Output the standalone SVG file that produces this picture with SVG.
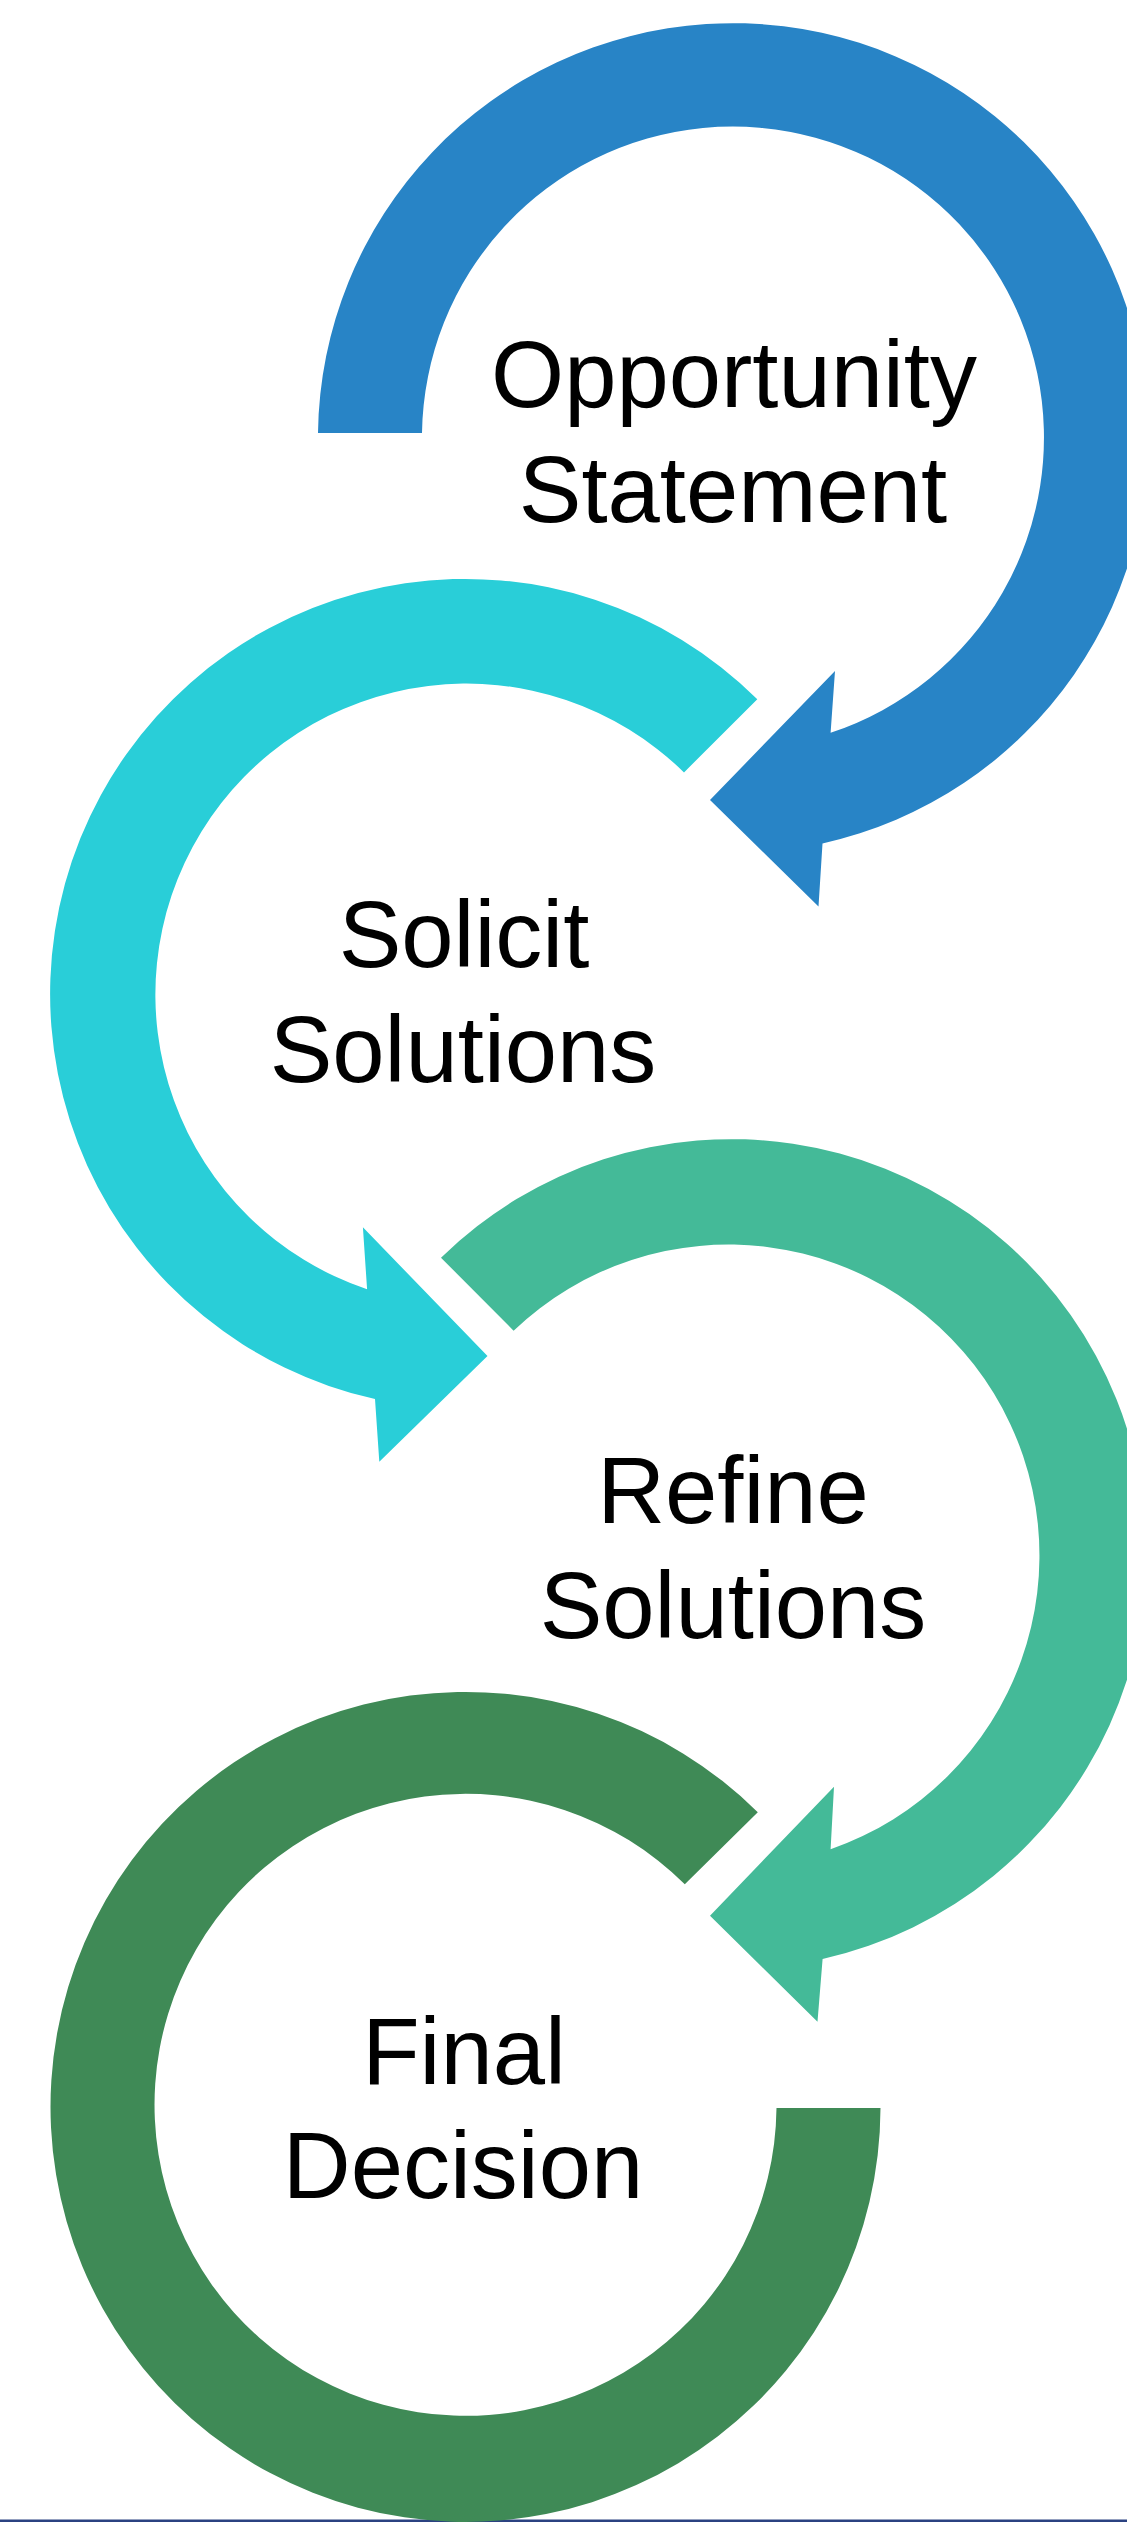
<svg xmlns="http://www.w3.org/2000/svg" width="1127" height="2522" viewBox="0 0 1127 2522">
  <style>
    .lbl { font-family: "Liberation Sans", Arial, sans-serif; font-size: 94px; fill: #000000; text-anchor: middle; }
  </style>
  <rect x="0" y="0" width="1127" height="2522" fill="#ffffff"/>
  <rect id="baseline" x="0" y="2519.5" width="1127" height="2.5" fill="#2B4281"/>
  <g id="connectors">
    <path id="arrow-opportunity" fill="#2884C6" d="M 318 433 A 415 415 0 1 1 822.5 843.4 L 818.5 906.6 L 710 800 L 835 671 L 830.6 732.8 A 311 311 0 1 0 422 433 Z"/>
    <path id="arrow-solicit" fill="#29CED8" d="M 757.3 699.2 A 415 415 0 1 0 375 1399 L 379.3 1461.7 L 487.5 1356 L 362.9 1227.3 L 367.1 1289.3 A 311 311 0 1 1 684 772.4 Z"/>
    <path id="arrow-refine" fill="#44BA98" d="M 441 1257.7 A 415 415 0 1 1 822.6 1959 L 817.5 2021.7 L 710 1915.7 L 834 1786.7 L 830.6 1849.3 A 311 311 0 1 0 513.6 1330.7 Z"/>
    <path id="arc-final" fill="#3F8A56" d="M 757.8 1812.3 A 415 415 0 1 0 880.5 2108 L 776.5 2108 A 311 311 0 1 1 684.8 1884.3 Z"/>
  </g>
  <g id="node-opportunity">
    <text class="lbl" x="734" y="407">Opportunity</text>
    <text class="lbl" x="733" y="522">Statement</text>
  </g>
  <g id="node-solicit">
    <text class="lbl" x="464" y="967">Solicit</text>
    <text class="lbl" x="463" y="1082">Solutions</text>
  </g>
  <g id="node-refine">
    <text class="lbl" x="733" y="1523">Refine</text>
    <text class="lbl" x="733" y="1638">Solutions</text>
  </g>
  <g id="node-final">
    <text class="lbl" x="464" y="2084">Final</text>
    <text class="lbl" x="463" y="2198">Decision</text>
  </g>
</svg>
